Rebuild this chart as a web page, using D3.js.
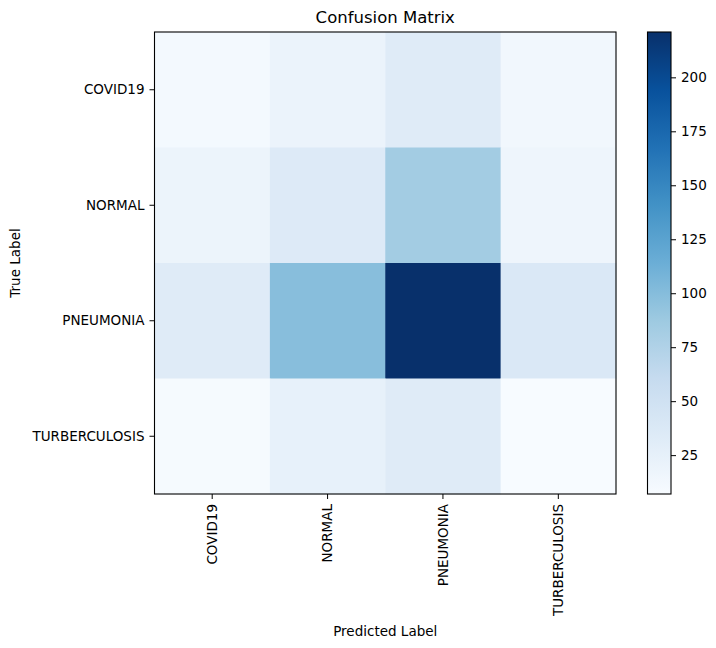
<!DOCTYPE html>
<html><head><meta charset="utf-8">
<script src="https://cdn.jsdelivr.net/npm/d3@7"></script>
<style>body{margin:0;background:#fff}svg{display:block}text{font-family:"DejaVu Sans",sans-serif;fill:#000}</style>
</head><body><svg id="c" width="716" height="648"></svg>
<script>
const predictedLabels = ["COVID19","NORMAL","PNEUMONIA","TURBERCULOSIS"];
const trueLabels = ["COVID19","NORMAL","PNEUMONIA","TURBERCULOSIS"];
const rowCOVID19 = [11, 20, 33, 13];
const rowNORMAL = [19, 35, 84, 17];
const rowPNEUMONIA = [33, 99, 221, 38];
const rowTURBERCULOSIS = [9, 24, 33, 7];
const matrix = [rowCOVID19, rowNORMAL, rowPNEUMONIA, rowTURBERCULOSIS];
const colorbarTicks = [25, 50, 75, 100, 125, 150, 175, 200];
const blues = ["#f7fbff","#deebf7","#c6dbef","#9ecae1","#6baed6","#4292c6","#2171b5","#08519c","#08306b"];

const svg = d3.select("#c");
const L = 154.5, R = 616, T = 32, B = 494;
const vmin = d3.min(matrix.flat()), vmax = d3.max(matrix.flat());
const color = d3.scaleLinear().domain(blues.map((_, i) => vmin + i / 8 * (vmax - vmin))).range(blues).clamp(true);

const x = d3.scaleBand().domain(predictedLabels).range([L, R]);
const y = d3.scaleBand().domain(trueLabels).range([T, B]);

const cells = [];
matrix.forEach((row, i) => row.forEach((v, j) => cells.push({r: trueLabels[i], c: predictedLabels[j], v})));
svg.append("g").selectAll("rect").data(cells).join("rect")
  .attr("x", d => x(d.c)).attr("y", d => y(d.r))
  .attr("width", x.bandwidth() + 0.5).attr("height", y.bandwidth() + 0.5)
  .attr("fill", d => color(d.v));

svg.append("rect").attr("x", L).attr("y", T).attr("width", R - L).attr("height", B - T)
  .attr("fill", "none").attr("stroke", "#000").attr("stroke-width", 1.1);

const fs = "13.5px";
const xAxis = svg.append("g").attr("transform", `translate(0,${B})`)
  .call(d3.axisBottom(x).tickSize(5).tickPadding(5));
xAxis.select(".domain").remove();
xAxis.selectAll("text").attr("font-size", fs).attr("font-family", "DejaVu Sans")
  .attr("transform", "rotate(-90)").attr("text-anchor", "end")
  .attr("x", -10).attr("y", 0).attr("dy", "0.35em");

const yAxis = svg.append("g").attr("transform", `translate(${L},0)`)
  .call(d3.axisLeft(y).tickSize(5).tickPadding(5));
yAxis.select(".domain").remove();
yAxis.selectAll("text").attr("font-size", fs).attr("font-family", "DejaVu Sans");

svg.append("text").attr("x", (L + R) / 2).attr("y", 23).attr("text-anchor", "middle")
  .attr("font-size", "16.5px").text("Confusion Matrix");
svg.append("text").attr("x", (L + R) / 2).attr("y", 636).attr("text-anchor", "middle")
  .attr("font-size", fs).text("Predicted Label");
svg.append("text").attr("transform", `translate(20,${(T + B) / 2}) rotate(-90)`).attr("text-anchor", "middle")
  .attr("font-size", fs).text("True Label");

// colorbar
const CL = 647.5, CR = 671, CT = 32, CB = 494;
const grad = svg.append("defs").append("linearGradient").attr("id", "g")
  .attr("x1", 0).attr("y1", 1).attr("x2", 0).attr("y2", 0);
blues.forEach((c, i) => grad.append("stop").attr("offset", i / 8).attr("stop-color", c));
svg.append("rect").attr("x", CL).attr("y", CT).attr("width", CR - CL).attr("height", CB - CT)
  .attr("fill", "url(#g)").attr("stroke", "#000").attr("stroke-width", 1.1);
const cy = d3.scaleLinear().domain([vmin, vmax]).range([CB, CT]);
const cAxis = svg.append("g").attr("transform", `translate(${CR},0)`)
  .call(d3.axisRight(cy).tickValues(colorbarTicks).tickSize(5).tickPadding(5));
cAxis.select(".domain").remove();
cAxis.selectAll("text").attr("font-size", fs).attr("font-family", "DejaVu Sans");
</script></body></html>
